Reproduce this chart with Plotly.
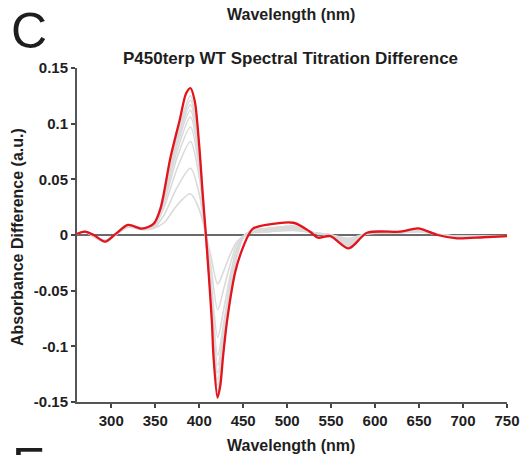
import plotly.graph_objects as go

# ---- data ----
red_wavelength = [261, 270, 280, 293, 305, 319, 335, 348, 356, 367, 378, 385, 390, 395, 400, 404,
                  407.6, 410.6, 414.4, 416.3, 420.8, 424, 427, 431.5, 441, 447, 456, 461, 476, 507,
                  526, 535, 549, 570, 591, 629, 649, 671, 693, 723, 750]
red_values = [0.001, 0.003, 0.000, -0.006, 0.001, 0.009, 0.0057, 0.010, 0.024, 0.0686, 0.104, 0.127,
              0.132, 0.120, 0.080, 0.036, 0.0, -0.033, -0.078, -0.110, -0.146, -0.135, -0.110, -0.078,
              -0.033, -0.017, 0.0, 0.0057, 0.009, 0.011, 0.003, -0.0024, -0.001, -0.012, 0.002, 0.003,
              0.006, 0.0, -0.003, -0.002, -0.001]

gray_wavelength = [261, 270, 293, 319, 335, 348, 360, 375, 390, 400, 407, 413, 421, 428, 435, 442, 450,
                   460, 480, 507, 530, 550, 570, 590, 630, 650, 675, 700, 750]
gray_1 = [0.001, 0.003, -0.005, 0.007, 0.005, 0.006, 0.011, 0.027, 0.037, 0.023, 0.002, -0.018, -0.044, -0.032, -0.018, -0.007, -0.001, 0.002, 0.003, 0.004, 0.002, 0.000, -0.003, 0.001, 0.002, 0.003, 0.000, -0.001, -0.001]
gray_2 = [0.001, 0.003, -0.005, 0.007, 0.005, 0.006, 0.018, 0.043, 0.060, 0.037, 0.002, -0.027, -0.067, -0.048, -0.027, -0.010, -0.001, 0.002, 0.003, 0.005, 0.002, 0.000, -0.004, 0.001, 0.002, 0.003, 0.000, -0.001, -0.001]
gray_3 = [0.001, 0.003, -0.005, 0.008, 0.005, 0.007, 0.025, 0.060, 0.084, 0.052, 0.002, -0.037, -0.092, -0.066, -0.037, -0.014, -0.002, 0.003, 0.004, 0.005, 0.002, 0.000, -0.005, 0.001, 0.002, 0.004, 0.000, -0.001, -0.001]
gray_4 = [0.001, 0.003, -0.005, 0.008, 0.006, 0.007, 0.029, 0.070, 0.097, 0.060, 0.002, -0.043, -0.108, -0.078, -0.043, -0.016, -0.002, 0.003, 0.005, 0.006, 0.002, 0.000, -0.006, 0.001, 0.003, 0.004, 0.000, -0.001, -0.001]
gray_5 = [0.001, 0.003, -0.005, 0.008, 0.006, 0.007, 0.032, 0.076, 0.106, 0.066, 0.002, -0.047, -0.117, -0.084, -0.047, -0.018, -0.002, 0.003, 0.005, 0.006, 0.002, -0.001, -0.007, 0.001, 0.003, 0.004, 0.000, -0.001, -0.001]
gray_6 = [0.001, 0.003, -0.006, 0.008, 0.006, 0.008, 0.034, 0.081, 0.112, 0.069, 0.002, -0.050, -0.124, -0.089, -0.050, -0.019, -0.002, 0.003, 0.005, 0.007, 0.002, -0.001, -0.008, 0.001, 0.003, 0.005, 0.000, -0.001, -0.001]
gray_7 = [0.001, 0.003, -0.006, 0.009, 0.006, 0.008, 0.035, 0.084, 0.117, 0.073, 0.002, -0.052, -0.130, -0.094, -0.052, -0.020, -0.002, 0.004, 0.006, 0.007, 0.002, -0.001, -0.009, 0.002, 0.003, 0.005, 0.000, -0.002, -0.001]
gray_8 = [0.001, 0.003, -0.006, 0.009, 0.006, 0.009, 0.036, 0.087, 0.121, 0.075, 0.002, -0.054, -0.135, -0.097, -0.054, -0.021, -0.002, 0.004, 0.006, 0.008, 0.002, -0.001, -0.010, 0.002, 0.003, 0.005, 0.000, -0.002, -0.001]
gray_9 = [0.001, 0.003, -0.006, 0.009, 0.006, 0.009, 0.037, 0.090, 0.125, 0.078, 0.002, -0.056, -0.140, -0.101, -0.056, -0.022, -0.002, 0.004, 0.006, 0.008, 0.002, -0.001, -0.010, 0.002, 0.003, 0.005, 0.000, -0.002, -0.001]

x_ticks = [300, 350, 400, 450, 500, 550, 600, 650, 700, 750]
y_ticks = [0.15, 0.1, 0.05, 0, -0.05, -0.1, -0.15]
y_ticktext = ["0.15", "0.1", "0.05", "0", "-0.05", "-0.1", "-0.15"]

title_text = "P450terp WT Spectral Titration Difference"
x_title = "Wavelength (nm)"
y_title = "Absorbance Difference (a.u.)"

# ---- layout geometry (pixels) ----
W, H = 521, 455
L, R, T, B = 77, 507, 68, 402


def px(x):
    return (x - L) / (R - L)


def py(y):
    return (B - y) / (B - T)


FONT = "Liberation Sans, Arial, Helvetica, sans-serif"
TXT = "#1e1e1e"

fig = go.Figure()
for g in [gray_1, gray_2, gray_3, gray_4, gray_5, gray_6, gray_7, gray_8, gray_9]:
    fig.add_trace(go.Scatter(x=gray_wavelength, y=g, mode="lines",
                             line=dict(color="#dadada", width=1.6, shape="spline", smoothing=0.8),
                             hoverinfo="skip", showlegend=False))
fig.add_trace(go.Scatter(x=red_wavelength, y=red_values, mode="lines",
                         line=dict(color="#e3141c", width=2.3, shape="spline", smoothing=0.8),
                         showlegend=False))

fig.update_layout(
    width=W, height=H,
    margin=dict(l=L, r=W - R, t=T, b=H - B, autoexpand=False),
    paper_bgcolor="white", plot_bgcolor="white",
    font=dict(family=FONT, color=TXT),
    showlegend=False,
)
fig.update_xaxes(range=[261, 750], tickvals=x_ticks, ticks="outside", ticklen=4, tickwidth=1.5,
                 tickcolor="#444", showline=True, linecolor="#555", linewidth=2, showgrid=False,
                 zeroline=False, automargin=False,
                 tickfont=dict(size=15, weight="bold", family=FONT, color=TXT))
fig.update_yaxes(range=[-0.15, 0.15], tickvals=y_ticks, ticktext=y_ticktext, ticks="outside",
                 ticklen=4, tickwidth=1.5, tickcolor="#444", showline=True, linecolor="#555",
                 linewidth=2, showgrid=False, zeroline=True, zerolinecolor="#6a6a6a", zerolinewidth=2,
                 automargin=False,
                 tickfont=dict(size=15, weight="bold", family=FONT, color=TXT))

ann = [
    dict(text=title_text, x=px(290), y=py(58), font=dict(size=17, weight="bold")),
    dict(text=x_title, x=px(291), y=py(15), font=dict(size=16, weight="bold")),
    dict(text=x_title, x=px(291), y=py(445), font=dict(size=16, weight="bold")),
    dict(text=y_title, x=px(18), y=py(237), textangle=-90, font=dict(size=16, weight="bold")),
    dict(text="C", x=px(29), y=py(31), font=dict(size=50)),
    dict(text="E", x=px(28), y=py(466), font=dict(size=50)),
]
for a in ann:
    a.update(xref="paper", yref="paper", showarrow=False, xanchor="center", yanchor="middle")
    a["font"].update(family=FONT, color=TXT)
    fig.add_annotation(**a)

fig.write_html("out.html")
